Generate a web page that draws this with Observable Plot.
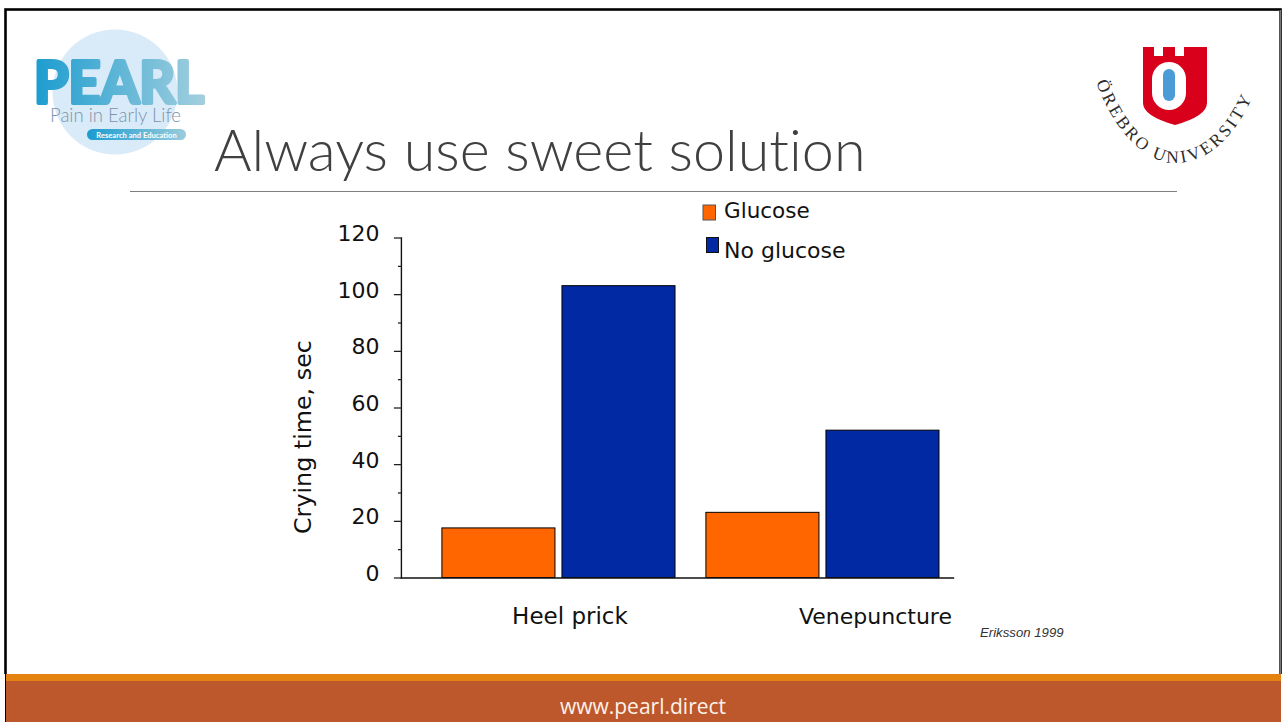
<!DOCTYPE html>
<html>
<head>
<meta charset="utf-8">
<script src="https://cdn.jsdelivr.net/npm/d3@7"></script>
<script src="https://cdn.jsdelivr.net/npm/@observablehq/plot@0.6"></script>
<style>
html,body{margin:0;padding:0;background:#fff;width:1283px;height:722px;overflow:hidden}
#stage{position:relative;width:1283px;height:722px}
#chart{position:absolute;left:0;top:0}
#deco{position:absolute;left:0;top:0}
svg text{font-variant-ligatures:none}
</style>
</head>
<body>
<div id="stage"><div id="chart"></div>
<svg id="deco" width="1283" height="722" viewBox="0 0 1283 722" xmlns="http://www.w3.org/2000/svg">
  <defs>
    <path id="arc" d="M1096 82 C1116 136 1148 163 1175 163 C1208 163 1238 136 1258 84"/>
    <linearGradient id="pill" x1="0" x2="1"><stop offset="0" stop-color="#1b9ccf"/><stop offset="1" stop-color="#9bcbdc"/></linearGradient>
    <linearGradient id="pearlGrad" gradientUnits="userSpaceOnUse" x1="33" x2="205" y1="0" y2="0"><stop offset="0" stop-color="#1b9ccf"/><stop offset="1" stop-color="#a3cfde"/></linearGradient>
  </defs>
  <rect x="5.5" y="9.5" width="1275" height="720" fill="none" stroke="#000" stroke-width="2.6"/>
  <rect x="1279.5" y="10" width="1.5" height="664" fill="#777"/>
  <circle cx="115" cy="92" r="62.5" fill="#d9ebf9"/>
  <text x="34" y="103" font-family="Lato" font-weight="700" font-size="57" textLength="170" lengthAdjust="spacingAndGlyphs" stroke-linejoin="round" stroke-width="4" fill="url(#pearlGrad)" stroke="url(#pearlGrad)">PEARL</text>
  <text x="50" y="122" font-family="Lato" font-weight="300" font-size="19" fill="#7b93ad" textLength="131" lengthAdjust="spacingAndGlyphs">Pain in Early Life</text>
  <rect x="87" y="129" width="99" height="11" rx="5.5" fill="url(#pill)"/>
  <text x="136.5" y="137.5" text-anchor="middle" font-family="Lato" font-weight="700" font-size="7.6" fill="#fff">Research and Education</text>
  <text x="214" y="171" font-family="Lato" font-weight="300" font-size="57.5" fill="#404040">Always use sweet solution</text>
  <rect x="130" y="191" width="1047" height="1" fill="#7f7f7f"/>
  <path d="M1143 47 H1154 V56 H1163 V47 H1175 V56 H1184 V47 H1207 V103 Q1207 116 1175 125 Q1143 116 1143 103 Z" fill="#d9001b"/>
  <rect x="1152" y="62" width="34" height="48" rx="17" fill="#fff"/>
  <rect x="1163" y="69" width="12" height="32" rx="6" fill="#4b9bd6"/>
  <text font-family="Liberation Serif" font-size="17.5" fill="#2b2b2b" letter-spacing="2.8"><textPath href="#arc" startOffset="0">ÖREBRO UNIVERSITY</textPath></text>
  <rect x="703" y="205" width="12.5" height="15" fill="#ff6600" stroke="#555" stroke-width="1"/>
  <rect x="706.5" y="237.5" width="12" height="15" fill="#0029a3" stroke="#111" stroke-width="1"/>
  <text x="724" y="218" font-family="DejaVu Sans" font-size="21.5" fill="#111">Glucose</text>
  <text x="724" y="258" font-family="DejaVu Sans" font-size="22" fill="#111">No glucose</text>
  <text x="980" y="637" font-family="Liberation Sans" font-style="italic" font-size="13.2" fill="#333">Eriksson 1999</text>
  <rect x="6" y="674" width="1275" height="48" fill="#bd582c"/>
  <rect x="6" y="674" width="1275" height="7" fill="#e48312"/>
  <rect x="0" y="674" width="5" height="48" fill="#fff"/>
  <rect x="1281" y="674" width="2" height="48" fill="#fff"/>
  <text x="643" y="714" text-anchor="middle" font-family="Open Sans" font-size="21" fill="#fdf2ea">www.pearl.direct</text>
</svg></div>
<script>
const procedures = ["Heel prick", "Venepuncture"];
const treatments = ["Glucose", "No glucose"];
const glucoseValues = [17.5, 23];
const noGlucoseValues = [103, 52];
const treatmentColors = ["#ff6600", "#0029a3"];
const majorTicks = [0, 20, 40, 60, 80, 100, 120];
const minorTicks = [10, 30, 50, 70, 90, 110];
const yLabel = "Crying time, sec";
const rows = procedures.flatMap((p, i) => [
  {procedure: p, treatment: treatments[0], value: glucoseValues[i]},
  {procedure: p, treatment: treatments[1], value: noGlucoseValues[i]}
]);
const labelFont = {fontFamily: "DejaVu Sans", fontSize: 22, fill: "#111"};
const axisShift = -41;
const plot = Plot.plot({
  width: 1283, height: 722,
  marginLeft: 401, marginRight: 330, marginTop: 237.5, marginBottom: 144.5,
  style: {background: "transparent", overflow: "visible"},
  fx: {domain: procedures, axis: null, label: null, paddingInner: 0.117, paddingOuter: 0.104, align: 0.745, round: false},
  x: {domain: treatments, axis: null, label: null, paddingInner: 0.0583, paddingOuter: 0, round: false},
  y: {domain: [0, 120], axis: null, label: null},
  color: {domain: treatments, range: treatmentColors},
  marks: [
    Plot.barY(rows, {fx: "procedure", x: "treatment", y: "value", fill: "treatment", stroke: "#000", strokeWidth: 1}),
    Plot.frame({anchor: "left", facet: "super", dx: axisShift, stroke: "#111", strokeWidth: 1.4}),
    Plot.frame({anchor: "bottom", facet: "super", insetLeft: axisShift, insetRight: -14, stroke: "#111", strokeWidth: 1.4}),
    Plot.axisY({ticks: majorTicks, tickSize: 7, dx: axisShift, tickFormat: () => "", label: null, stroke: "#111", strokeOpacity: 1, strokeWidth: 1.2}),
    Plot.axisY({ticks: minorTicks, tickSize: 3, dx: axisShift, tickFormat: () => "", label: null, stroke: "#111", strokeOpacity: 1, strokeWidth: 1.2}),
    Plot.axisY({ticks: majorTicks, tickSize: 0, tickPadding: 22, dx: axisShift, dy: -4, label: null, tickFormat: d => String(d), ...labelFont}),
    Plot.text([yLabel], {text: d => d, facet: "super", frameAnchor: "left", rotate: -90, dx: -139, dy: 126, ...labelFont, fontSize: 23.8}),
    Plot.text([procedures[0]], {fx: d => d, text: d => d, frameAnchor: "bottom", dy: 45.5, dx: 11, ...labelFont, fontSize: 23}),
    Plot.text([procedures[1]], {fx: d => d, text: d => d, frameAnchor: "bottom", dy: 45.5, dx: 52.5, ...labelFont})
  ]
});
document.getElementById("chart").appendChild(plot);
</script>
</body>
</html>
